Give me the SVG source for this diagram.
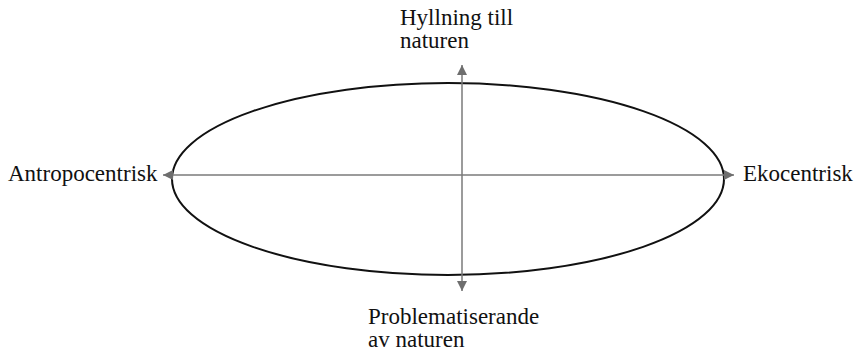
<svg xmlns="http://www.w3.org/2000/svg" width="858" height="353" viewBox="0 0 858 353">
<style>
.lbl{font-family:"Liberation Serif","Times New Roman",serif;font-size:23px;fill:#111}
.axis{stroke:#7a7a7a;stroke-width:1.5;fill:none}
</style>
<defs>
<marker id="ah" viewBox="0 0 10 10" refX="10" refY="5" markerWidth="10" markerHeight="10" markerUnits="userSpaceOnUse" orient="auto">
<path d="M0,0 L10,5 L0,10 Z" fill="#6e6e6e"/>
</marker>
</defs>
<rect width="858" height="353" fill="#fff"/>
<g id="ellipse">
<ellipse cx="448" cy="179" rx="276" ry="96" fill="none" stroke="#111" stroke-width="2"/>
</g>
<g id="connectors">
<line class="axis" x1="448" y1="175" x2="163" y2="175" marker-end="url(#ah)"/>
<line class="axis" x1="448" y1="175" x2="734" y2="175" marker-end="url(#ah)"/>
<line class="axis" x1="462" y1="178" x2="462" y2="65" marker-end="url(#ah)"/>
<line class="axis" x1="462" y1="178" x2="462" y2="291" marker-end="url(#ah)"/>
</g>
<g id="top"><text class="lbl" x="400" y="25">Hyllning till</text><text class="lbl" x="400" y="48">naturen</text></g>
<g id="left"><text class="lbl" x="8" y="181">Antropocentrisk</text></g>
<g id="right"><text class="lbl" x="743" y="181">Ekocentrisk</text></g>
<g id="bottom"><text class="lbl" x="368" y="324">Problematiserande</text><text class="lbl" x="368" y="347">av naturen</text></g>
</svg>
